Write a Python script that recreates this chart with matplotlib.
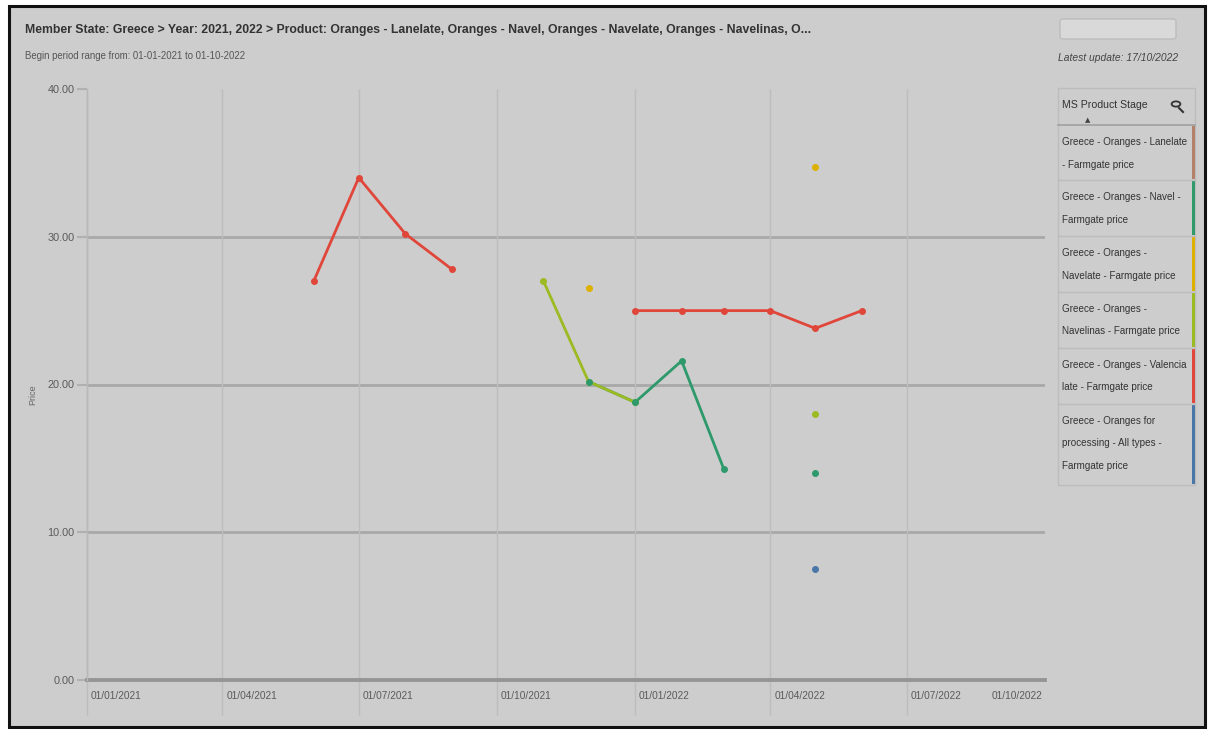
import matplotlib
matplotlib.use("Agg")
import matplotlib.pyplot as plt
import matplotlib.dates as mdates
import matplotlib.transforms as mtrans
from matplotlib.patches import Rectangle, FancyBboxPatch, Circle
from matplotlib.lines import Line2D
import numpy as np
import datetime as dt

plt.rcParams['font.family'] = ['Liberation Sans', 'DejaVu Sans']

# ---------------- data ----------------
months = ["2021-01", "2021-02", "2021-03", "2021-04", "2021-05", "2021-06", "2021-07",
          "2021-08", "2021-09", "2021-10", "2021-11", "2021-12", "2022-01", "2022-02",
          "2022-03", "2022-04", "2022-05", "2022-06", "2022-07", "2022-08", "2022-09"]
N = np.nan
lanelate   = [N, N, N, N, N, N, N, N, N, N, N, N, N, N, N, N, N, N, N, N, N]
navel      = [N, N, N, N, N, N, N, N, N, N, N, 20.2, 18.8, 21.6, 14.3, N, 14.0, N, N, N, N]
navelate   = [N, N, N, N, N, N, N, N, N, N, N, 26.5, N, N, N, N, 34.7, N, N, N, N]
navelinas  = [N, N, N, N, N, N, N, N, N, N, 27.0, 20.2, 18.8, N, N, N, 18.0, N, N, N, N]
valencia   = [N, N, N, N, N, 27.0, 34.0, 30.2, 27.8, N, N, N, 25.0, 25.0, 25.0, 25.0, 23.8, 25.0, N, N, N]
processing = [N, N, N, N, N, N, N, N, N, N, N, N, N, N, N, N, 7.5, N, N, N, N]

series_labels = [["Greece - Oranges - Lanelate", "- Farmgate price"],
                 ["Greece - Oranges - Navel -", "Farmgate price"],
                 ["Greece - Oranges -", "Navelate - Farmgate price"],
                 ["Greece - Oranges -", "Navelinas - Farmgate price"],
                 ["Greece - Oranges - Valencia", "late - Farmgate price"],
                 ["Greece - Oranges for", "processing - All types -", "Farmgate price"]]
series_colors = ["#b3806a", "#2e9a6c", "#deb000", "#9cba22", "#e0463a", "#4a76a8"]
series_values = [lanelate, navel, navelate, navelinas, valencia, processing]

tick_dates = ["2021-01-01", "2021-04-01", "2021-07-01", "2021-10-01",
              "2022-01-01", "2022-04-01", "2022-07-01", "2022-10-01"]
tick_labels = ["01/01/2021", "01/04/2021", "01/07/2021", "01/10/2021",
               "01/01/2022", "01/04/2022", "01/07/2022", "01/10/2022"]
y_ticks = [0, 10, 20, 30, 40]
y_ticklabels = ["0.00", "10.00", "20.00", "30.00", "40.00"]

title = ("Member State: Greece > Year: 2021, 2022 > Product: Oranges - Lanelate, "
         "Oranges - Navel, Oranges - Navelate, Oranges - Navelinas, O...")
subtitle = "Begin period range from: 01-01-2021 to 01-10-2022"
update = "Latest update: 17/10/2022"
legend_title = "MS Product Stage"

# ---------------- figure ----------------
W, H = 1209, 729
BG = "#cdcdcd"
fig = plt.figure(figsize=(W / 100, H / 100), dpi=100)
fig.patch.set_facecolor("white")

def fx(px):
    return px / W

def fy(py):
    return 1 - py / H

# frame
fig.patches.append(Rectangle((fx(9), fy(727)), fx(1205) - fx(9), fy(6) - fy(727),
                             transform=fig.transFigure, facecolor=BG,
                             edgecolor="#111111", linewidth=2.2, zorder=-10))

dates = [dt.datetime.strptime(m + "-01", "%Y-%m-%d") for m in months]
tdates = [dt.datetime.strptime(d, "%Y-%m-%d") for d in tick_dates]

ax = fig.add_axes([fx(87), fy(680), fx(1045) - fx(87), fy(89) - fy(680)])
ax.set_zorder(2)
ax.set_facecolor("none")
ax.set_xlim(tdates[0], tdates[-1])
ax.set_ylim(0, 40)
for s in ["top", "right", "bottom"]:
    ax.spines[s].set_visible(False)
ax.spines["left"].set_color("#b8b8b8")
ax.spines["left"].set_linewidth(1.0)

# horizontal grid
for v in y_ticks[1:-1]:
    ax.axhline(v, color="#a8a8a8", lw=2.0, zorder=1)
ax.axhline(0, color="#959595", lw=2.8, zorder=2, clip_on=False)

# vertical grid extending into label area
xnum = mdates.date2num(tdates)
ax.vlines(xnum[:-1], -0.06, 1.0, transform=ax.get_xaxis_transform(),
          colors="#bdbdbd", lw=1.0, clip_on=False, zorder=1)

ax.set_yticks(y_ticks)
ax.set_yticklabels(y_ticklabels)
ax.tick_params(axis="y", length=7, width=1.5, color="#b0b0b0", pad=2,
               labelsize=7.8, labelcolor="#5a5a5a")
ax.set_xticks(xnum)
ax.set_xticklabels(tick_labels)
ax.tick_params(axis="x", length=0, pad=8, labelsize=7.3, labelcolor="#5a5a5a")
for i, lab in enumerate(ax.get_xticklabels()):
    if i < len(tick_labels) - 1:
        lab.set_horizontalalignment("left")
        lab.set_transform(lab.get_transform() + mtrans.ScaledTranslation(4 / 100, 0, fig.dpi_scale_trans))
    else:
        lab.set_horizontalalignment("right")
        lab.set_transform(lab.get_transform() + mtrans.ScaledTranslation(-3 / 100, 0, fig.dpi_scale_trans))

fig.text(fx(33), fy(395), "Price", fontsize=6.5, color="#666666", rotation=90,
         ha="center", va="center")

# data: lines first, then markers
line_z = {0: 3, 5: 4, 2: 5, 1: 6, 3: 7, 4: 8}
mark_z = {0: 10, 5: 11, 2: 12, 3: 13, 1: 14, 4: 15}
for i in range(len(series_values)):
    vals = np.array(series_values[i], dtype=float)
    ax.plot(dates, vals, color=series_colors[i], lw=2.0, solid_capstyle="round",
            zorder=line_z[i])
    ax.plot(dates, vals, color=series_colors[i], lw=0, marker="o", ms=4.0,
            zorder=mark_z[i])

# titles
fig.text(fx(25), fy(30), title, fontsize=8.8, fontweight="bold", color="#333333", va="center")
fig.text(fx(25), fy(56), subtitle, fontsize=6.9, color="#555555", va="center")
fig.text(fx(1058), fy(58), update, fontsize=7.4, style="italic", color="#444444", va="center")

# button
fig.patches.append(FancyBboxPatch((fx(1060), fy(39)), fx(1176) - fx(1060), fy(19) - fy(39),
                                  boxstyle="round,pad=0,rounding_size=0.003",
                                  transform=fig.transFigure, facecolor="#d9d9d9",
                                  edgecolor="#bdbdbd", lw=1.0))

# legend panel
lx0, lx1 = 1058, 1195
fig.patches.append(Rectangle((fx(lx0), fy(485)), fx(lx1) - fx(lx0), fy(88) - fy(485),
                             transform=fig.transFigure, facecolor=BG,
                             edgecolor="#bdbdbd", lw=1.0))
fig.text(fx(1062), fy(105), legend_title, fontsize=7.6, color="#333333", va="center")
fig.text(fx(1088), fy(120), "\u25B2", fontsize=5, color="#444444", va="center", ha="center",
         family=["DejaVu Sans"])
fig.patches.append(Circle((fx(1176), fy(104)), 0.0036, transform=fig.transFigure,
                          facecolor="none", edgecolor="#333333", lw=1.3))
fig.lines.append(Line2D([fx(1179), fx(1183)], [fy(108), fy(112)], transform=fig.transFigure,
                        color="#333333", lw=1.5))
row_edges = [125, 180, 236, 292, 348, 404, 485]
fig.lines.append(Line2D([fx(lx0), fx(lx1)], [fy(125), fy(125)], transform=fig.transFigure,
                        color="#a0a0a0", lw=1.2))
for k, (lines, col) in enumerate(zip(series_labels, series_colors)):
    top, bot = row_edges[k], row_edges[k + 1]
    if k > 0:
        fig.lines.append(Line2D([fx(lx0), fx(lx1)], [fy(top), fy(top)],
                                transform=fig.transFigure, color="#bdbdbd", lw=1.0))
    fig.patches.append(Rectangle((fx(1192), fy(bot - 1)), fx(3), fy(top + 1) - fy(bot - 1),
                                 transform=fig.transFigure, facecolor=col, edgecolor="none"))
    for j, line in enumerate(lines):
        fig.text(fx(1062), fy(top + 17 + 22.5 * j), line, fontsize=7.1, color="#333333",
                 va="center")

fig.savefig("out.png", dpi=100, facecolor="white")
